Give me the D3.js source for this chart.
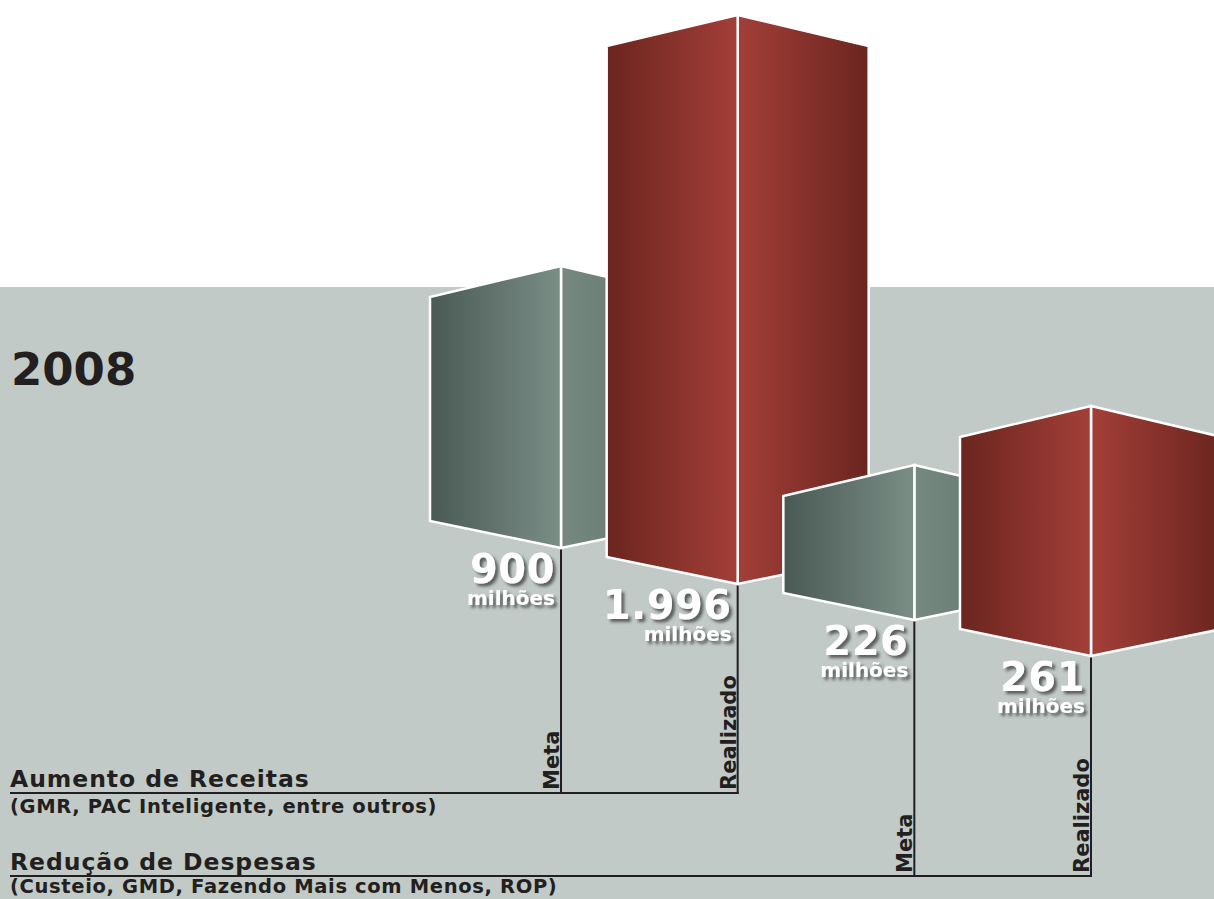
<!DOCTYPE html>
<html>
<head>
<meta charset="utf-8">
<script src="https://cdn.jsdelivr.net/npm/d3@7/dist/d3.min.js"></script>
<style>
  html, body { margin: 0; padding: 0; background: #ffffff; }
  svg { display: block; }
  text { font-family: "DejaVu Sans", Verdana, sans-serif; font-weight: bold; }
</style>
</head>
<body>
<svg id="chart" width="1214" height="899"></svg>
<script>
// ---------------- DATA ----------------
const year = "2008";
const groups = ["Aumento de Receitas", "Redução de Despesas"];
const groupNotes = ["(GMR, PAC Inteligente, entre outros)", "(Custeio, GMD, Fazendo Mais com Menos, ROP)"];
const seriesNames = ["Meta", "Realizado"];
const metaValues = [900, 226];
const realizadoValues = [1996, 261];
const unitLabel = "milhões";

// ---------------- SETUP ----------------
const W = 1214, H = 899;
const svg = d3.select("#chart");
const ptBR = d3.formatLocale({ decimal: ",", thousands: ".", grouping: [3], currency: ["R$", ""] });
const fmt = ptBR.format(",");

// flatten into boxes (built from the arrays above)
const boxes = [];
groups.forEach((g, gi) => {
  [metaValues[gi], realizadoValues[gi]].forEach((v, si) => {
    boxes.push({ group: gi, series: si, value: v, idx: boxes.length });
  });
});

// scales
const xCorner = d3.scaleLinear().domain([0, boxes.length - 1]).range([561, 1091]);
const yBottom = d3.scaleLinear().domain([0, boxes.length - 1]).range([548, 656]);
// the original artwork's heights are not proportional; monotone piecewise scale
const sortedVals = boxes.map(b => b.value).slice().sort((a, b) => a - b);
const hScale = d3.scaleLinear().domain([0, ...sortedVals]).range([0, 155, 250, 282, 569]);
const yGroupBase = d3.scaleOrdinal().domain(d3.range(groups.length)).range([793, 876]);

const faceW = 131, topSlope = 31, botSlope = 27;

// ---------------- DEFS ----------------
const defs = svg.append("defs");
function grad(id, stops) {
  const lg = defs.append("linearGradient").attr("id", id)
    .attr("x1", "0%").attr("x2", "100%").attr("y1", "0%").attr("y2", "0%");
  stops.forEach(s => lg.append("stop").attr("offset", s[0]).attr("stop-color", s[1]));
}
grad("grayL", [["0%", "#4a5954"], ["100%", "#7a8e86"]]);
grad("grayR", [["0%", "#768980"], ["100%", "#5d6f68"]]);
grad("redL", [["0%", "#6b251f"], ["100%", "#a33f38"]]);
grad("redR", [["0%", "#a33f38"], ["100%", "#6b251f"]]);

const f = defs.append("filter").attr("id", "shadow")
  .attr("x", "-20%").attr("y", "-20%").attr("width", "140%").attr("height", "160%");
f.append("feDropShadow").attr("dx", 3).attr("dy", 3).attr("stdDeviation", 1.6)
  .attr("flood-color", "#3a3a3a").attr("flood-opacity", 0.75);

// ---------------- BACKGROUND ----------------
svg.append("rect").attr("x", 0).attr("y", 0).attr("width", W).attr("height", H).attr("fill", "#ffffff");
svg.append("rect").attr("x", 0).attr("y", 287).attr("width", W).attr("height", H - 287).attr("fill", "#c1cac6");

// year
svg.append("text").attr("x", 11).attr("y", 385).attr("font-size", 45).attr("fill", "#231f20").text(year);

// ---------------- BASE LINES & LABELS ----------------
const ink = "#231f20";
const noteOffset = [20, 17];
groups.forEach((g, gi) => {
  const base = yGroupBase(gi);
  const lastBox = boxes.filter(b => b.group === gi).slice(-1)[0];
  svg.append("line").attr("x1", 10).attr("x2", xCorner(lastBox.idx) + 1)
    .attr("y1", base).attr("y2", base).attr("stroke", ink).attr("stroke-width", 2);
  svg.append("text").attr("x", 10).attr("y", base - 6).attr("font-size", 23.5)
    .attr("letter-spacing", 0.95).attr("fill", ink).text(g);
  svg.append("text").attr("x", 10).attr("y", base + noteOffset[gi]).attr("font-size", 19.5)
    .attr("letter-spacing", 0.65).attr("fill", ink).text(groupNotes[gi]);
});

// vertical leader lines + rotated series labels
boxes.forEach(b => {
  const x = xCorner(b.idx);
  const base = yGroupBase(b.group);
  svg.append("line").attr("x1", x).attr("x2", x)
    .attr("y1", yBottom(b.idx)).attr("y2", base + 1)
    .attr("stroke", ink).attr("stroke-width", 2);
  svg.append("text")
    .attr("transform", `translate(${x - 2},${base - 3}) rotate(-90)`)
    .attr("font-size", 21).attr("fill", ink).attr("text-anchor", "start")
    .text(seriesNames[b.series]);
});

// ---------------- BOXES ----------------
const line = d3.line();
boxes.forEach(b => {
  const cx = xCorner(b.idx);
  const bot = yBottom(b.idx);
  const top = bot - hScale(b.value);
  const isRed = b.series === 1;
  const gEl = svg.append("g");
  gEl.append("path")
    .attr("d", line([[cx, top], [cx + faceW, top + topSlope], [cx + faceW, bot - botSlope], [cx, bot]]) + "Z")
    .attr("fill", `url(#${isRed ? "redR" : "grayR"})`)
    .attr("stroke", "#ffffff").attr("stroke-width", 2.5).attr("stroke-linejoin", "miter");
  gEl.append("path")
    .attr("d", line([[cx - faceW, top + topSlope], [cx, top], [cx, bot], [cx - faceW, bot - botSlope]]) + "Z")
    .attr("fill", `url(#${isRed ? "redL" : "grayL"})`)
    .attr("stroke", "#ffffff").attr("stroke-width", 2.5).attr("stroke-linejoin", "miter");
});

// ---------------- VALUE LABELS ----------------
boxes.forEach(b => {
  const x = xCorner(b.idx) - 6;
  const bot = yBottom(b.idx);
  const lg = svg.append("g").attr("filter", "url(#shadow)");
  lg.append("text").attr("x", x).attr("y", bot + 35).attr("text-anchor", "end")
    .attr("font-size", 40).attr("letter-spacing", 0.5).attr("fill", "#ffffff").text(fmt(b.value));
  lg.append("text").attr("x", x).attr("y", bot + 57).attr("text-anchor", "end")
    .attr("font-size", 20).attr("fill", "#ffffff").text(unitLabel);
});
</script>
</body>
</html>
